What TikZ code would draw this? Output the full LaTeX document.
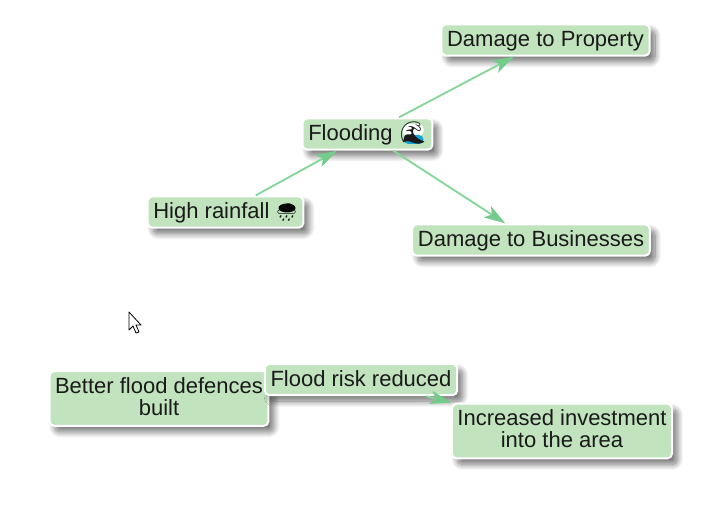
\documentclass[tikz,border=0pt]{standalone}
\usepackage{fontspec}
\usepackage{xcolor}
\setmainfont{Liberation Sans}
\newfontfamily\emojifont{Noto Emoji}
\usetikzlibrary{arrows.meta,shadows.blur}
\definecolor{causec}{HTML}{C1E4BE}
\definecolor{linkc}{HTML}{86D699}
\definecolor{tipc}{HTML}{74CB8C}
\definecolor{inkc}{HTML}{1A1A1A}
\definecolor{wavec}{HTML}{12A5DC}
\tikzset{
  causebase/.style={draw=white,line width=1.5pt,fill=causec,rounded corners=3.5pt,text=inkc,align=center,
    inner xsep=4.3pt,inner ysep=0pt,
    blur shadow={shadow xshift=4pt,shadow yshift=-4.5pt,shadow blur steps=14,shadow blur radius=4.5pt,shadow opacity=55}},
  causebox/.style={causebase,minimum height=23.5pt,text height=13.6pt,text depth=3.6pt},
  causetall/.style={causebase,inner xsep=4.1pt,minimum height=41pt,execute at end node=\rule[-3.6pt]{0pt}{3.6pt}},
  link/.style={draw=linkc,line width=1.4pt,-{Stealth[length=16pt,width=10pt,inset=4pt,color=tipc]}}
}
\begin{document}
\begin{tikzpicture}[x=0.75pt,y=-0.75pt,font=\fontsize{16.5pt}{16.5pt}\selectfont]
  \useasboundingbox (0,0) rectangle (719,517);
  \node[causebox] (property) at (545.5,40) {Damage to Property};
  \node[causebox,path picture={
      \fill[white] ([shift={(35,-10)}]path picture bounding box.center) rectangle ([shift={(56,2)}]path picture bounding box.center);
      \fill[wavec] ([shift={(36,1)}]path picture bounding box.center) rectangle ([shift={(56,10)}]path picture bounding box.center);
    }] (flooding) at (367.5,134) {Flooding {\emojifont 🌊}};
  \node[causebox,path picture={
      \fill[black] ([shift={(61.5,-4)}]path picture bounding box.center) ellipse [x radius=8.5,y radius=4.5];
    }] (rainfall) at (225.5,212) {High rainfall {\fontsize{13pt}{13pt}\emojifont 🌧}};
  \node[causebox] (business) at (531,240) {Damage to Businesses};
  \node[causetall] (defences) at (159,398.5) {Better flood defences\\built};
  \node[causebox] (risk) at (361,379.5) {Flood risk reduced};
  \node[causetall] (invest) at (562,431) {Increased investment\\into the area};
  \draw[link] (rainfall) -- (flooding);
  \draw[link] (flooding) -- (property);
  \draw[link] (flooding) -- (business);
  \draw[link] (risk) -- (invest);
  \draw[black,fill=white,line width=0.6pt,line join=round]
    (129,312) -- (129,330) -- (133,326) -- (136,333) -- (139,332) -- (136,325) -- (141,325) -- cycle;
\end{tikzpicture}
\end{document}
